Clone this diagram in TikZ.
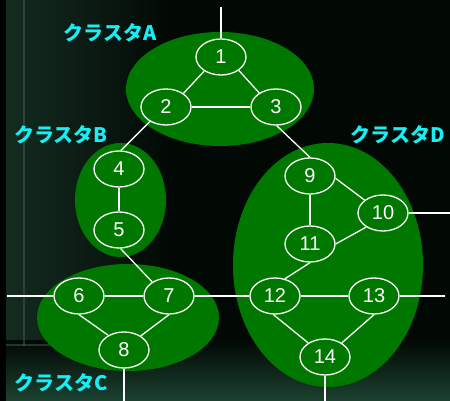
\documentclass[tikz,border=0pt]{standalone}
\usepackage{fontspec}
\setmainfont{Liberation Sans}
\newfontfamily\cjk{Noto Sans CJK JP}
\usetikzlibrary{shapes.geometric}
\definecolor{clgreen}{RGB}{0,120,0}
\definecolor{lblcyan}{RGB}{20,240,245}
\definecolor{bgdark}{RGB}{2,9,5}
\definecolor{bgglow}{RGB}{20,44,32}
\definecolor{bgband}{RGB}{28,66,48}
\tikzset{
  cluster/.style={ellipse, fill=clgreen, draw=none},
  vnode/.style={ellipse, draw=white, line width=1.3pt, fill=clgreen, minimum width=50pt, minimum height=36pt, inner sep=0pt, text=white, font=\fontsize{20}{20}\selectfont},
  link/.style={draw=white, line width=1.3pt},
  clabel/.style={text=lblcyan, font=\cjk\bfseries\fontsize{20}{20}\selectfont, inner sep=0pt}
}
\begin{document}
\begin{tikzpicture}[x=1pt,y=1pt]
\useasboundingbox (0,0) rectangle (450,401);
% background
\fill[bgdark] (0,0) rectangle (450,401);
\shade[left color=bgglow, right color=bgdark] (6,60) rectangle (170,401);
\shade[top color=bgdark, bottom color=bgband] (6,0) rectangle (450,60);
\fill[black] (0,0) rectangle (6,401);
\draw[color=bgband!80!white, line width=2pt, opacity=0.45] (24,55) -- (24,401);
\draw[color=bgband!80!white, line width=1.5pt, opacity=0.45] (6,56) -- (150,56);
% clusters
\node[cluster, minimum width=188pt, minimum height=114pt] (cA) at (220,312) {};
\node[cluster, minimum width=91pt, minimum height=114pt] (cB) at (120.5,201) {};
\node[cluster, minimum width=182pt, minimum height=107pt] (cC) at (128,83.5) {};
\node[cluster, minimum width=190pt, minimum height=244pt] (cD) at (328,136) {};
% labels
\node[clabel] (lA) at (110,368) {クラスタA};
\node[clabel] (lB) at (61,266) {クラスタB};
\node[clabel] (lD) at (398,266) {クラスタD};
\node[clabel] (lC) at (61,18) {クラスタC};
% vertices
\node[vnode] (n1) at (221,344) {1};
\node[vnode] (n2) at (166,294) {2};
\node[vnode] (n3) at (276,294) {3};
\node[vnode] (n4) at (119,232) {4};
\node[vnode] (n5) at (119,171) {5};
\node[vnode] (n6) at (79,105) {6};
\node[vnode] (n7) at (169,105) {7};
\node[vnode] (n8) at (124,51) {8};
\node[vnode] (n9) at (310,225) {9};
\node[vnode] (n10) at (383,188) {10};
\node[vnode] (n11) at (310,157) {11};
\node[vnode] (n12) at (275,105) {12};
\node[vnode] (n13) at (374,105) {13};
\node[vnode] (n14) at (325,44) {14};
% free ends
\coordinate (e1) at (221,394);
\coordinate (e6) at (7,105);
\coordinate (e10) at (450,188);
\coordinate (e13) at (445,105);
\coordinate (e8) at (124,0);
\coordinate (e14) at (325,0);
% edges
\draw[link] (n1.220) -- (n2.38);
\draw[link] (n1.323) -- (n3.140);
\draw[link] (n2.east) -- (n3.west);
\draw[link] (n2.222) -- (n4.84);
\draw[link] (n3.272) -- (n9.90);
\draw[link] (n4.south) -- (n5.north);
\draw[link] (n5.275) -- (n7.140);
\draw[link] (n6.east) -- (n7.west);
\draw[link] (n6.270) -- (n8.137);
\draw[link] (n7.270) -- (n8.40);
\draw[link] (n7.east) -- (n12.west);
\draw[link] (n9.355) -- (n10.145);
\draw[link] (n9.south) -- (n11.north);
\draw[link] (n10.220) -- (n11.east);
\draw[link] (n11.south) -- (n12.60);
\draw[link] (n12.east) -- (n13.west);
\draw[link] (n12.265) -- (n14.140);
\draw[link] (n13.270) -- (n14.40);
\draw[link] (e1) -- (n1.north);
\draw[link] (e6) -- (n6.west);
\draw[link] (n10.east) -- (e10);
\draw[link] (n13.east) -- (e13);
\draw[link] (n8.south) -- (e8);
\draw[link] (n14.south) -- (e14);
\end{tikzpicture}
\end{document}
